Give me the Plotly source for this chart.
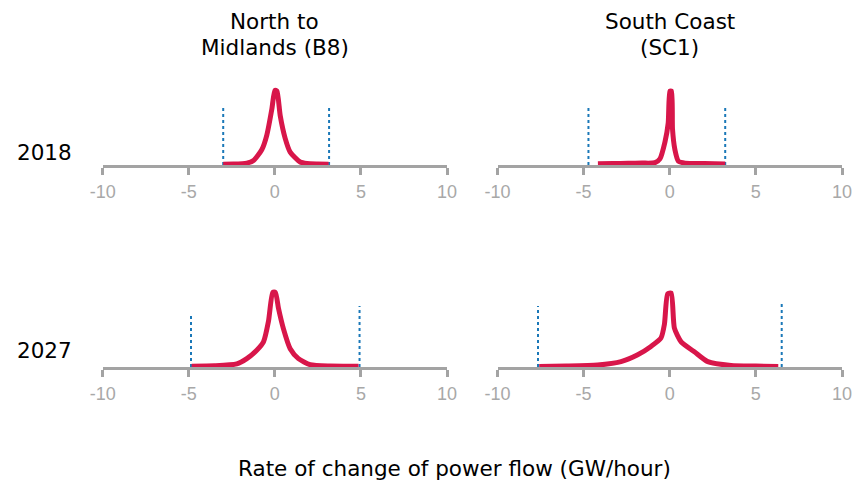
import plotly.graph_objects as go

# Density curves (normalised to peak = 1)
b8_2018_x = [-3.0, -2.4, -1.63, -1.24, -0.76, -0.47, -0.17, 0.0, 0.12, 0.31, 0.6, 0.89, 1.47, 1.86, 2.5, 3.12]
b8_2018_y = [0.01, 0.012, 0.025, 0.06, 0.2, 0.39, 0.74, 0.98, 0.97, 0.65, 0.35, 0.17, 0.04, 0.02, 0.013, 0.01]

sc1_2018_x = [-4.17, -3.3, -2.42, -1.6, -0.86, -0.57, -0.28, -0.09, 0.01, 0.1, 0.16, 0.3, 0.5, 0.89, 2.0, 3.22]
sc1_2018_y = [0.015, 0.02, 0.022, 0.025, 0.03, 0.08, 0.3, 0.55, 0.97, 0.97, 0.47, 0.2, 0.05, 0.025, 0.02, 0.012]

b8_2027_x = [-4.83, -3.5, -2.21, -1.63, -1.05, -0.66, -0.37, -0.12, 0.03, 0.21, 0.5, 0.89, 1.37, 2.05, 3.2, 4.86]
b8_2027_y = [0.01, 0.015, 0.04, 0.11, 0.22, 0.33, 0.6, 0.98, 0.98, 0.77, 0.5, 0.24, 0.11, 0.03, 0.012, 0.01]

sc1_2027_x = [-7.58, -6.0, -4.19, -2.83, -1.86, -1.09, -0.51, -0.31, -0.12, 0.08, 0.27, 0.66, 1.43, 2.21, 3.56, 5.0, 6.3]
sc1_2027_y = [0.008, 0.012, 0.025, 0.07, 0.16, 0.27, 0.38, 0.56, 0.96, 0.97, 0.51, 0.33, 0.2, 0.07, 0.02, 0.012, 0.008]

# Dotted limit lines: positions and heights
b8_2018_lim_x = [-3.0, 3.15]
b8_2018_lim_h = [0.78, 0.78]
sc1_2018_lim_x = [-4.72, 3.22]
sc1_2018_lim_h = [0.77, 0.77]
b8_2027_lim_x = [-4.87, 4.92]
b8_2027_lim_h = [0.71, 0.80]
sc1_2027_lim_x = [-7.65, 6.5]
sc1_2027_lim_h = [0.80, 0.85]

col_titles = [["North to", "Midlands (B8)"], ["South Coast", "(SC1)"]]
row_labels = ["2018", "2027"]
x_title = "Rate of change of power flow (GW/hour)"
tick_vals = [-10, -5, 0, 5, 10]
tick_text = ["-10", "-5", "0", "5", "10"]

panels = [
    (b8_2018_x, b8_2018_y, b8_2018_lim_x, b8_2018_lim_h, "x", "y"),
    (sc1_2018_x, sc1_2018_y, sc1_2018_lim_x, sc1_2018_lim_h, "x2", "y2"),
    (b8_2027_x, b8_2027_y, b8_2027_lim_x, b8_2027_lim_h, "x3", "y3"),
    (sc1_2027_x, sc1_2027_y, sc1_2027_lim_x, sc1_2027_lim_h, "x4", "y4"),
]

W = 868.0
H = 482.0
xdom = [[102.7 / W, 447.0 / W], [497.5 / W, 842.0 / W]]
ydom = [[(H - 165) / H, (H - 85) / H], [(H - 367) / H, (H - 287) / H]]

fig = go.Figure()
for (cx, cy, lx, lh, xa, ya) in panels:
    for xv, hv in zip(lx, lh):
        fig.add_trace(go.Scatter(x=[xv, xv], y=[0, hv], mode="lines",
                                 line=dict(color="#1a78b8", width=2, dash="dot"),
                                 xaxis=xa, yaxis=ya, hoverinfo="skip", showlegend=False))
    fig.add_trace(go.Scatter(x=cx, y=cy, mode="lines",
                             line=dict(color="#d8164a", width=5, shape="spline", smoothing=0.6),
                             xaxis=xa, yaxis=ya, showlegend=False))

font_family = "DejaVu Sans, Arial, Helvetica, sans-serif"
tick_family = "Liberation Sans, Arial, Helvetica, sans-serif"
layout = dict(
    template="none",
    width=868, height=482, margin=dict(l=0, r=0, t=0, b=0, pad=0, autoexpand=False),
    plot_bgcolor="white", paper_bgcolor="white",
    font=dict(family=font_family),
)
names = ["", "2", "3", "4"]
for i, n in enumerate(names):
    r, c = divmod(i, 2)
    layout["xaxis" + n] = dict(
        domain=xdom[c], anchor="y" + n, range=[-10, 10], automargin=False,
        tickvals=tick_vals, ticktext=tick_text,
        showgrid=False, zeroline=False, showline=True,
        linecolor="#a3a3a3", linewidth=2.5,
        ticks="outside", ticklen=7, tickwidth=2.5, tickcolor="#a3a3a3",
        ticklabelstandoff=2,
        tickfont=dict(size=18, color="#a8a8a8", family=tick_family),
    )
    layout["yaxis" + n] = dict(
        domain=ydom[r], anchor="x" + n, range=[0, 1.05], automargin=False,
        visible=False, showgrid=False, zeroline=False,
    )
fig.update_layout(**layout)

anns = []
for c, lines in enumerate(col_titles):
    for k, t in enumerate(lines):
        anns.append(dict(text=t, x=sum(xdom[c]) / 2, y=(H - [22, 48][k]) / H, xref="paper", yref="paper",
                         showarrow=False, font=dict(size=21.5, color="black"), xanchor="center", yanchor="middle"))
for r, t in enumerate(row_labels):
    anns.append(dict(text=t, x=44.5 / W, y=(H - [152, 350][r]) / H, xref="paper", yref="paper",
                     showarrow=False, font=dict(size=21.5, color="black"), xanchor="center", yanchor="middle"))
anns.append(dict(text=x_title, x=454 / W, y=(H - 468) / H, xref="paper", yref="paper",
                 showarrow=False, font=dict(size=21.5, color="black"), xanchor="center", yanchor="middle"))
fig.update_layout(annotations=anns)

fig.write_html("out.html")
